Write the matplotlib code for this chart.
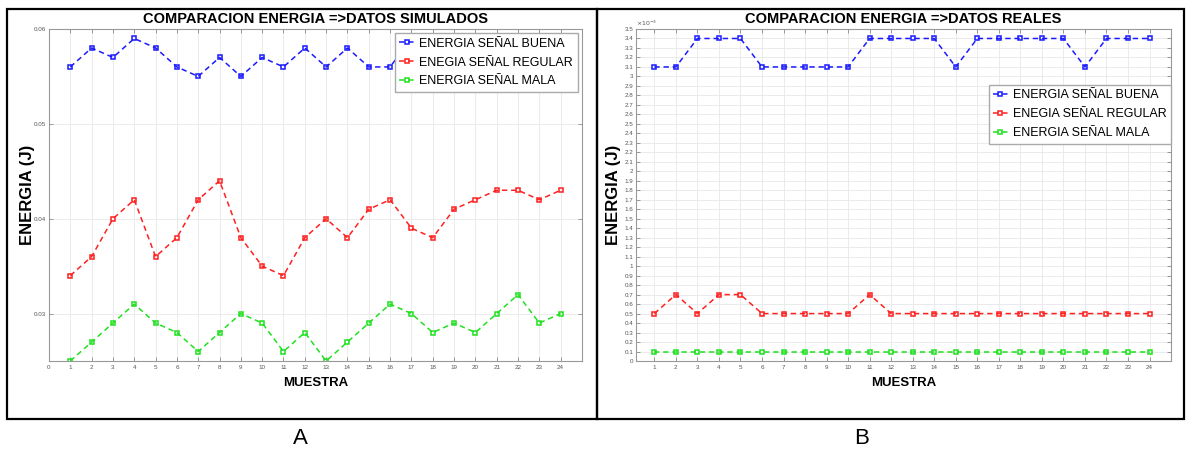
#Comparacion de energia: datos simulados (A) y datos reales (B)
import numpy as np
import matplotlib.pyplot as plt
from matplotlib.patches import Rectangle
from matplotlib.ticker import FuncFormatter

plt.rcParams['font.family'] = ['Liberation Sans', 'DejaVu Sans']

muestra = np.arange(1, 25)

#Datos simulados [J]
sim_buena = [0.056, 0.058, 0.057, 0.059, 0.058, 0.056, 0.055, 0.057, 0.055, 0.057, 0.056, 0.058,
             0.056, 0.058, 0.056, 0.056, 0.059, 0.058, 0.057, 0.058, 0.056, 0.057, 0.058, 0.057]
sim_regular = [0.034, 0.036, 0.040, 0.042, 0.036, 0.038, 0.042, 0.044, 0.038, 0.035, 0.034, 0.038,
               0.040, 0.038, 0.041, 0.042, 0.039, 0.038, 0.041, 0.042, 0.043, 0.043, 0.042, 0.043]
sim_mala = [0.025, 0.027, 0.029, 0.031, 0.029, 0.028, 0.026, 0.028, 0.030, 0.029, 0.026, 0.028,
            0.025, 0.027, 0.029, 0.031, 0.030, 0.028, 0.029, 0.028, 0.030, 0.032, 0.029, 0.030]

#Datos reales [x10^-3 J]
real_buena = [3.1, 3.1, 3.4, 3.4, 3.4, 3.1, 3.1, 3.1, 3.1, 3.1, 3.4, 3.4,
              3.4, 3.4, 3.1, 3.4, 3.4, 3.4, 3.4, 3.4, 3.1, 3.4, 3.4, 3.4]
real_regular = [0.5, 0.7, 0.5, 0.7, 0.7, 0.5, 0.5, 0.5, 0.5, 0.5, 0.7, 0.5,
                0.5, 0.5, 0.5, 0.5, 0.5, 0.5, 0.5, 0.5, 0.5, 0.5, 0.5, 0.5]
real_mala = [0.1] * 24
escala = 1e-3

etiquetas = ['ENERGIA SEÑAL BUENA', 'ENEGIA SEÑAL REGULAR', 'ENERGIA SEÑAL MALA']
colores = ['#1a1aff', '#ff2020', '#20e020']

fig = plt.figure(figsize=(11.86, 4.53), dpi=100)

def estilo(ax, titulo, xlab):
    ax.set_title(titulo, fontsize=10.5, fontweight='bold', pad=4)
    ax.set_xlabel('MUESTRA', fontsize=9.5, fontweight='bold', labelpad=5)
    ax.set_ylabel('ENERGIA (J)', fontsize=12, fontweight='bold')
    ax.yaxis.set_label_coords(xlab, 0.5)
    ax.tick_params(direction='in', top=True, right=True, labelsize=4.5,
                   labelcolor='#555555', color='#888888', length=3, width=0.6, pad=3)
    ax.tick_params(axis='y', pad=2)
    for s in ax.spines.values():
        s.set_color('#999999')
        s.set_linewidth(0.8)
    ax.grid(True, color='#e8e8e8', linewidth=0.6)
    ax.set_axisbelow(True)

def series(ax, datos):
    for y, lab, c in zip(datos, etiquetas, colores):
        ax.plot(muestra, y, linestyle=(0, (3.5, 2.5)), lw=1.1, color=c, marker='s',
                markersize=3.3, markerfacecolor='none', markeredgewidth=1.1, label=lab)

ley = dict(fontsize=9, fancybox=False, edgecolor='#aaaaaa', framealpha=1, handlelength=1.2,
           handletextpad=0.4, labelspacing=0.55, borderpad=0.35)

#Grafico A
ax1 = fig.add_axes([0.0413, 0.2031, 0.4494, 0.7329])
series(ax1, [sim_buena, sim_regular, sim_mala])
ax1.set_xlim(0, 25)
ax1.set_ylim(0.025, 0.06)
ax1.set_xticks(np.arange(0, 25))
ax1.set_yticks([0.03, 0.04, 0.05, 0.06])
ax1.yaxis.set_major_formatter(FuncFormatter(lambda v, p: f'{v:g}'))
estilo(ax1, 'COMPARACION ENERGIA =>DATOS SIMULADOS', -0.026)
ax1.legend(loc='upper right', borderaxespad=0.35, **ley)

#Grafico B
ax2 = fig.add_axes([0.5363, 0.2031, 0.4511, 0.7329])
series(ax2, [np.array(real_buena) * escala, np.array(real_regular) * escala,
             np.array(real_mala) * escala])
ax2.set_xlim(0.15, 25)
ax2.set_ylim(0, 3.5e-3)
ax2.set_xticks(muestra)
ax2.set_yticks(np.arange(0, 36) * 0.1 * escala)
ax2.yaxis.set_major_formatter(FuncFormatter(lambda v, p: f'{round(v / escala, 1):g}'))
estilo(ax2, 'COMPARACION ENERGIA =>DATOS REALES', -0.029)
ax2.text(0.0, 1.003, r'$\times10^{-3}$', transform=ax2.transAxes, fontsize=4.5,
         color='#555555', va='bottom', ha='left')
ax2.legend(loc='upper right', bbox_to_anchor=(1.0, 0.831), borderaxespad=0, **ley)

#Marcos y letras
fig.add_artist(Rectangle((7 / 1186, 34 / 453), 590 / 1186, 410 / 453, transform=fig.transFigure,
                         fill=False, edgecolor='black', lw=1.6))
fig.add_artist(Rectangle((597 / 1186, 34 / 453), 587 / 1186, 410 / 453, transform=fig.transFigure,
                         fill=False, edgecolor='black', lw=1.6))
fig.text(300 / 1186, 1 - 438 / 453, 'A', fontsize=16, ha='center', va='center')
fig.text(862 / 1186, 1 - 438 / 453, 'B', fontsize=16, ha='center', va='center')

plt.savefig('out.png', dpi=100)
